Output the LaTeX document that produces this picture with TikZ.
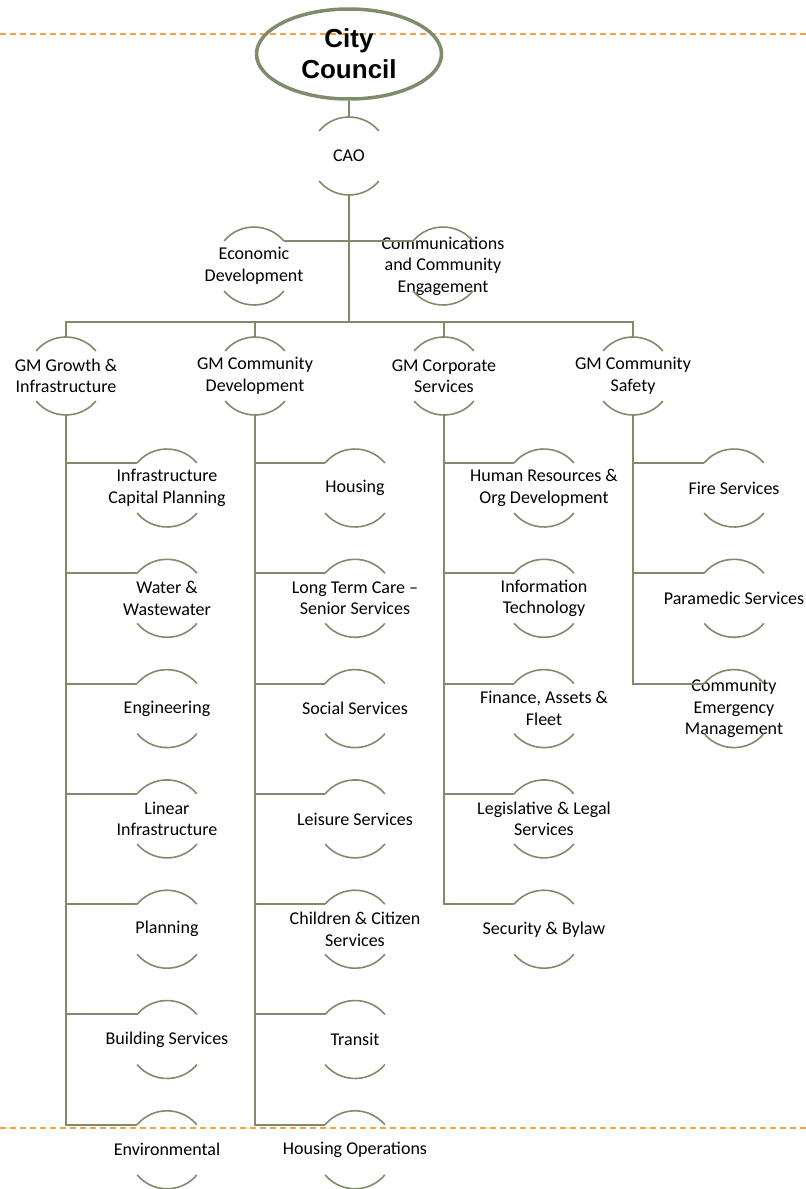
\documentclass[tikz,border=0pt]{standalone}
\usepackage{fontspec}
\setmainfont{Carlito}
\newfontfamily\headfont{Liberation Sans}
\usepackage{tikz}
\usetikzlibrary{shapes.geometric, calc}

\definecolor{linegreen}{HTML}{7F8C6B}
\definecolor{dashorange}{HTML}{F6A04A}

\tikzset{
  unit/.style={align=center, inner sep=0pt, font=\fontsize{18}{21.5}\selectfont},
  ring/.style={draw=linegreen, line width=1.6pt},
  conn/.style={draw=linegreen, line width=2pt},
  head/.style={ellipse, draw=linegreen, line width=3.5pt, minimum width=185pt,
    minimum height=90pt, inner sep=0pt, align=center,
    font=\headfont\bfseries\fontsize{26}{31}\selectfont},
  cut/.style={draw=dashorange, line width=2pt, dash pattern=on 6pt off 4pt}
}

% top and bottom arcs of a unit
\newcommand{\unitarcs}[1]{%
  \draw[ring] ([shift={(40:39pt)}]#1.center) arc[start angle=40, end angle=140, radius=39pt];
  \draw[ring] ([shift={(220:39pt)}]#1.center) arc[start angle=220, end angle=320, radius=39pt];}

\begin{document}
\begin{tikzpicture}[x=1pt, y=-1pt]
  \useasboundingbox (0,0) rectangle (806,1189);

  % Page cuts
  \draw[cut] (0,34) -- (806,34);
  \draw[cut] (0,1128) -- (806,1128);

  % Top
  \node[head] (council) at (349,54) {City\\Council};
  \node[unit] (cao) at (349,156) {CAO};
  \node[unit] (econ) at (254,266) {Economic\\Development};
  \node[unit] (comm) at (443,266) {Communications\\and Community\\Engagement};

  % General managers
  \foreach \lbl [count=\g] in {{GM Growth \&\\Infrastructure}, {GM Community\\Development},
                               {GM Corporate\\Services}, {GM Community\\Safety}}
  \node[unit] (gm\g) at ({66+189*(\g-1)},376) {\lbl};

  % Units
  \foreach \lbl [count=\k] in {{Infrastructure\\Capital Planning}, {Water \&\\Wastewater},
                               Engineering, {Linear\\Infrastructure}, Planning,
                               {Building Services}, Environmental}
  \node[unit] (grow\k) at (167,{488+110.3*(\k-1)}) {\lbl};
  \foreach \lbl [count=\k] in {Housing, {Long Term Care --\\Senior Services}, {Social Services},
                               {Leisure Services}, {Children \& Citizen\\Services}, Transit,
                               {Housing Operations}}
  \node[unit] (dev\k) at (355,{488+110.3*(\k-1)}) {\lbl};
  \foreach \lbl [count=\k] in {{Human Resources \&\\Org Development}, {Information\\Technology},
                               {Finance, Assets \&\\Fleet}, {Legislative \& Legal\\Services},
                               {Security \& Bylaw}}
  \node[unit] (corp\k) at (544,{488+110.3*(\k-1)}) {\lbl};
  \foreach \lbl [count=\k] in {{Fire Services}, {Paramedic Services},
                               {Community\\Emergency\\Management}}
  \node[unit] (safe\k) at (734,{488+110.3*(\k-1)}) {\lbl};

  % Arcs
  \foreach \n in {cao, econ, comm, gm1, gm2, gm3, gm4,
                  grow1, grow2, grow3, grow4, grow5, grow6, grow7,
                  dev1, dev2, dev3, dev4, dev5, dev6, dev7,
                  corp1, corp2, corp3, corp4, corp5, safe1, safe2, safe3}
  {\unitarcs{\n}}

  % Lines
  \coordinate (bar) at (349,322);
  \draw[conn] (council.south) -- ([shift={(90:39pt)}]cao.center);
  \draw[conn] ([shift={(270:39pt)}]cao.center) -- (bar);
  \draw[conn] ([shift={(40:39pt)}]econ.center) -- ([shift={(140:39pt)}]comm.center);
  \foreach \g in {1,2,3,4}
  \draw[conn] (bar) -| ([shift={(90:39pt)}]gm\g.center);
  \foreach \k in {1,...,7}
  \draw[conn] ([shift={(270:39pt)}]gm1.center) |- ([shift={(140:39pt)}]grow\k.center);
  \foreach \k in {1,...,7}
  \draw[conn] ([shift={(270:39pt)}]gm2.center) |- ([shift={(140:39pt)}]dev\k.center);
  \foreach \k in {1,...,5}
  \draw[conn] ([shift={(270:39pt)}]gm3.center) |- ([shift={(140:39pt)}]corp\k.center);
  \foreach \k in {1,2,3}
  \draw[conn] ([shift={(270:39pt)}]gm4.center) |- ([shift={(140:39pt)}]safe\k.center);
\end{tikzpicture}
\end{document}
